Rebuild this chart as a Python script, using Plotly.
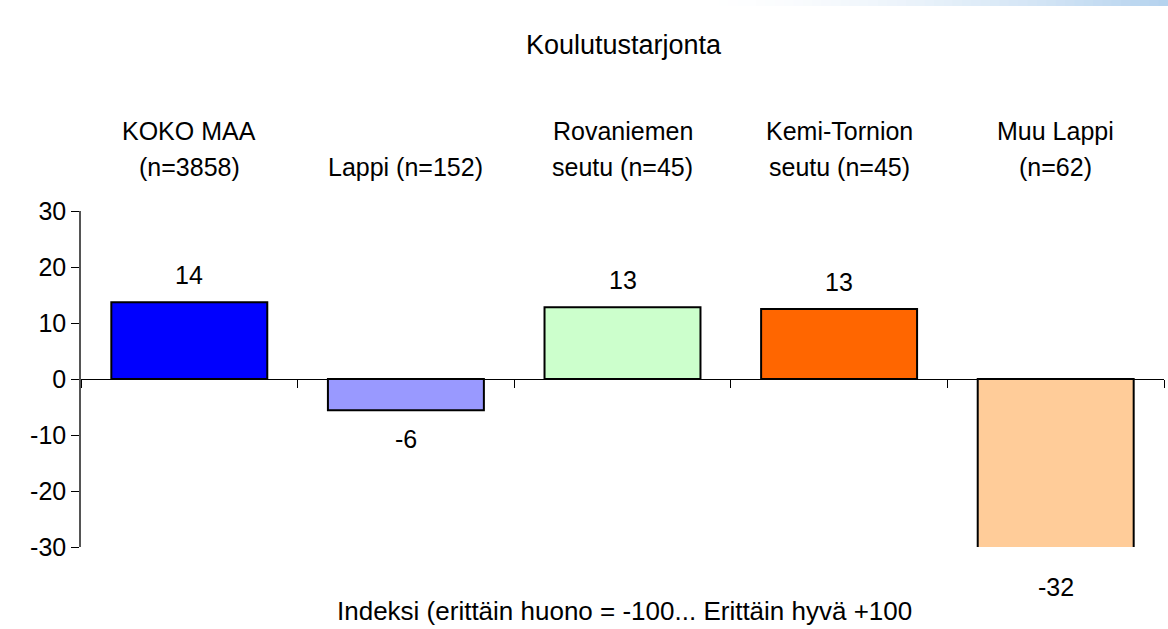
import plotly.graph_objects as go

categories = ["KOKO MAA<br>(n=3858)", "Lappi (n=152)", "Rovaniemen<br>seutu (n=45)",
              "Kemi-Tornion<br>seutu (n=45)", "Muu Lappi<br>(n=62)"]
values = [13.7, -5.6, 12.8, 12.5, -32]
labels = ["14", "-6", "13", "13", "-32"]
colors = ["#0000FF", "#9999FF", "#CCFFCC", "#FF6600", "#FFCC99"]
yticks = [-30, -20, -10, 0, 10, 20, 30]
y_range = [-30, 30]

FONT = "Liberation Sans, Arial, sans-serif"
FS = 25
x_ids = list(range(len(categories)))

W, H = 1168, 629
L, R, T, B = 81, 4, 211, 82
PW, PH = W - L - R, H - T - B


def py(pixel_y):
    """figure pixel y -> plot-area paper y"""
    return (H - B - pixel_y) / PH


def px(pixel_x):
    return (pixel_x - L) / PW


fig = go.Figure()
fig.add_trace(go.Bar(
    x=x_ids, y=values,
    marker=dict(color=colors, line=dict(color="black", width=2)),
    width=0.72, hoverinfo="skip",
))

annotations = []
for i, (v, lab) in enumerate(zip(values, labels)):
    annotations.append(dict(
        x=i, y=(v - y_range[0]) / (y_range[1] - y_range[0]), xref="x", yref="paper",
        text=lab, showarrow=False, yanchor="middle", xanchor="center",
        yshift=27 if v >= 0 else -29, font=dict(size=FS, color="black", family=FONT),
    ))
for i, cat in enumerate(categories):
    lines = cat.split("<br>")
    n = len(lines)
    for j, line in enumerate(lines):
        offset = (n - 1 - j) * 36
        annotations.append(dict(
            x=i, y=py(167 - offset), xref="x", yref="paper", text=line,
            showarrow=False, yanchor="middle",
            font=dict(size=FS, color="black", family=FONT),
        ))
annotations.append(dict(
    x=px(624), y=py(45), xref="paper", yref="paper", text="Koulutustarjonta",
    showarrow=False, yanchor="middle", font=dict(size=27, color="black", family=FONT),
))
annotations.append(dict(
    x=px(624), y=py(611), xref="paper", yref="paper",
    text="Indeksi (erittäin huono = -100... Erittäin hyvä +100",
    showarrow=False, yanchor="middle", font=dict(size=26, color="black", family=FONT),
))

# subtle gradient band at top right
shapes = []
nseg = 50
gx0, gx1 = 700, W
for k in range(nseg):
    t = ((k + 0.5) / nseg) ** 1.6
    r = int(round(255 - t * (255 - 180)))
    g = int(round(255 - t * (255 - 210)))
    b = int(round(255 - t * (255 - 238)))
    xa = gx0 + (gx1 - gx0) * k / nseg
    xb = gx0 + (gx1 - gx0) * (k + 1) / nseg + 1
    shapes.append(dict(
        type="rect", xref="paper", yref="paper",
        x0=px(xa), x1=px(xb), y0=py(6), y1=py(0),
        line=dict(width=0), fillcolor=f"rgb({r},{g},{b})", layer="below",
    ))

fig.update_layout(
    width=W, height=H,
    margin=dict(l=L, r=R, t=T, b=B, autoexpand=False),
    paper_bgcolor="white", plot_bgcolor="white",
    showlegend=False, bargap=0.28,
    annotations=annotations, shapes=shapes,
    xaxis=dict(
        range=[-0.5, len(categories) - 0.5], anchor="free", position=0.5,
        showline=True, linecolor="black", linewidth=1,
        ticks="outside", ticklen=8, tickcolor="black", tickwidth=1,
        tickvals=[i - 0.5 for i in range(len(categories) + 1)],
        showticklabels=False, showgrid=False, zeroline=False,
    ),
    yaxis=dict(
        range=y_range, tickvals=yticks, ticktext=[str(t) for t in yticks],
        showline=True, linecolor="#555555", linewidth=1.5,
        ticks="outside", ticklen=8, tickcolor="black",
        showgrid=False, zeroline=False,
        tickfont=dict(size=FS, color="black", family=FONT),
    ),
    font=dict(family=FONT, color="black"),
)

fig.write_html("out.html", config={"displayModeBar": False},
               post_script="document.body.style.margin='0';document.body.style.overflow='hidden';")
